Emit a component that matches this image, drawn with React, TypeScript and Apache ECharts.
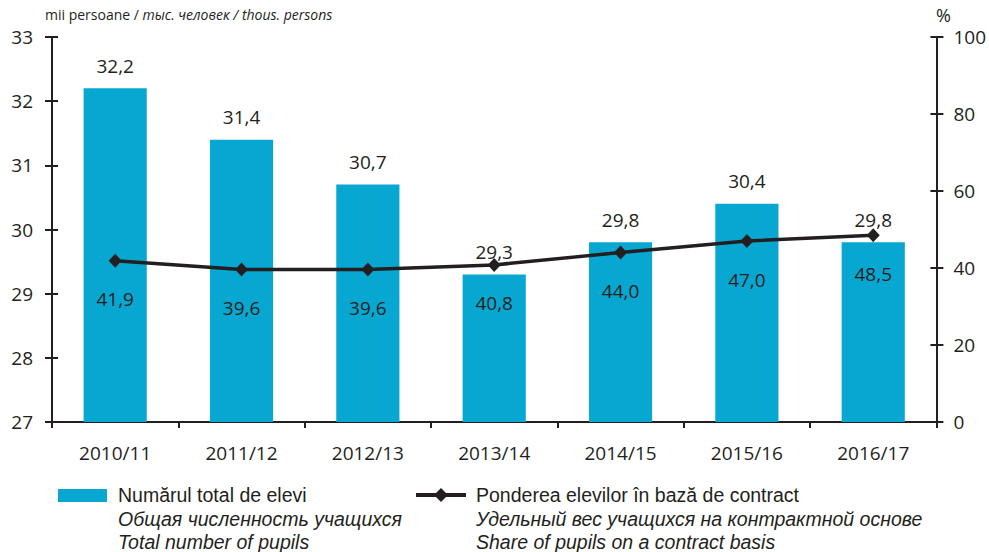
import React, { useEffect, useRef } from "react";
import * as echarts from "echarts";

const categories = ["2010/11", "2011/12", "2012/13", "2013/14", "2014/15", "2015/16", "2016/17"];
const pupilsTotal = [32.2, 31.4, 30.7, 29.3, 29.8, 30.4, 29.8];
const contractShare = [41.9, 39.6, 39.6, 40.8, 44.0, 47.0, 48.5];
const legendBars = ["Numărul total de elevi", "Общая численность учащихся", "Total number of pupils"];
const legendLine = [
  "Ponderea elevilor în bază de contract",
  "Удельный вес учащихся на контрактной основе",
  "Share of pupils on a contract basis",
];

const FONT = "'Open Sans', sans-serif";
const LEGEND_FONT = "'Liberation Sans', Arial, sans-serif";
const DARK = "#231F20";
const BLUE = "#07A7D1";
const FS = 19;

const fmt = (v: number) => v.toFixed(1).replace(".", ",");

const legendTexts = (lines: string[], left: number) =>
  lines.map((t, i) => ({
    type: "text",
    left,
    top: 484 + i * 23.7,
    style: {
      text: t,
      fontSize: 19.5,
      lineHeight: 22,
      fontFamily: LEGEND_FONT,
      fill: DARK,
      fontStyle: i === 0 ? "normal" : "italic",
    },
  }));

export default function App() {
  const ref = useRef<HTMLDivElement>(null);
  useEffect(() => {
    if (!ref.current) return;
    const chart = echarts.init(ref.current, undefined, { renderer: "svg" });
    const axisCommon = {
      axisLine: { show: false },
      splitLine: { show: false },
      axisLabel: { show: false },
    };
    chart.setOption({
      animation: false,
      textStyle: { fontFamily: FONT, color: DARK },
      grid: { left: 52, right: 51, top: 37, bottom: 130 },
      xAxis: {
        type: "category",
        data: categories,
        axisLine: { lineStyle: { color: DARK, width: 2 } },
        axisTick: { show: true, length: 6, lineStyle: { color: DARK, width: 2 } },
        axisLabel: { color: DARK, fontSize: FS, fontFamily: FONT, margin: 21 },
      },
      yAxis: [
        {
          type: "value", min: 27, max: 33, interval: 1, position: "left",
          axisLine: { show: true, lineStyle: { color: DARK, width: 2 } },
          axisTick: { show: true, length: 7, lineStyle: { color: DARK, width: 2 } },
          axisLabel: { color: DARK, fontSize: FS, fontFamily: FONT, margin: 19 },
          splitLine: { show: false },
        },
        {
          type: "value", min: 0, max: 100, interval: 20, position: "right",
          axisLine: { show: true, lineStyle: { color: DARK, width: 2 } },
          axisTick: { show: true, length: 7, lineStyle: { color: DARK, width: 2 } },
          axisLabel: { color: DARK, fontSize: FS, fontFamily: FONT, margin: 17 },
          splitLine: { show: false },
        },
        {
          type: "value", min: 27, max: 33, interval: 1, position: "left", ...axisCommon,
          axisTick: { show: true, inside: true, length: 6, lineStyle: { color: DARK, width: 2 } },
        },
        {
          type: "value", min: 0, max: 100, interval: 20, position: "right", ...axisCommon,
          axisTick: { show: true, inside: true, length: 6, lineStyle: { color: DARK, width: 2 } },
        },
      ],
      series: [
        {
          type: "bar",
          data: pupilsTotal,
          yAxisIndex: 0,
          barWidth: "50%",
          itemStyle: { color: BLUE },
          label: {
            show: true, position: "top", distance: 13,
            color: DARK, fontSize: FS, fontFamily: FONT,
            formatter: (p: any) => fmt(p.value),
          },
          z: 2,
        },
        {
          type: "line",
          data: contractShare,
          yAxisIndex: 1,
          symbol: "diamond",
          symbolSize: [13, 14],
          lineStyle: { color: DARK, width: 3.5 },
          itemStyle: { color: DARK },
          label: {
            show: true, position: "bottom", distance: 22,
            color: DARK, fontSize: FS, fontFamily: FONT,
            formatter: (p: any) => fmt(p.value),
          },
          z: 5,
        },
      ],
      graphic: [
        {
          type: "text", left: 45, top: 7,
          style: {
            text: "{n|mii persoane / }{i|тыс. человек / thous. persons}",
            rich: {
              n: { fontSize: 14, fontFamily: FONT, fill: DARK },
              i: { fontSize: 14, fontFamily: FONT, fill: DARK, fontStyle: "italic" },
            },
          },
        },
        {
          type: "text", left: 936, top: 6,
          style: { text: "%", fontSize: 18, fontFamily: FONT, fill: DARK },
        },
        { type: "rect", shape: { x: 58, y: 489, width: 49, height: 13 }, style: { fill: BLUE } },
        ...legendTexts(legendBars, 118),
        { type: "line", shape: { x1: 416, y1: 495, x2: 466, y2: 495 }, style: { stroke: DARK, lineWidth: 4 } },
        {
          type: "polygon",
          shape: { points: [[441, 488], [448, 495], [441, 502], [434, 495]] },
          style: { fill: DARK },
        },
        ...legendTexts(legendLine, 476),
      ],
    });
    return () => chart.dispose();
  }, []);
  return <div ref={ref} style={{ width: 989, height: 552, position: "absolute", left: 0, top: 0 }} />;
}
